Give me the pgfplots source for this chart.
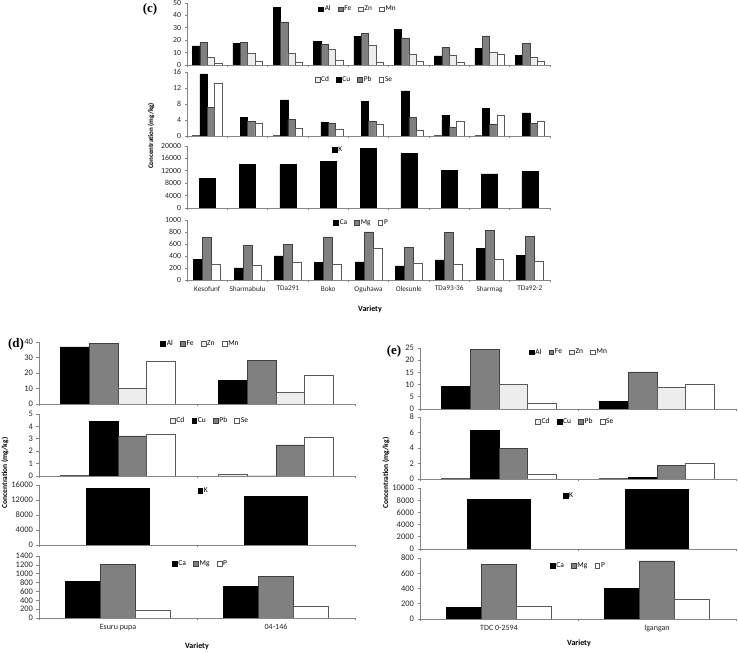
\documentclass[border=0pt]{standalone}
\usepackage{pgfplots}
\pgfplotsset{compat=1.18}
\usepackage{pgfplotstable}
\usepackage{fontspec}
\setmainfont{Carlito}
\newfontfamily\serifbold{Liberation Serif}
\definecolor{axisgrey}{HTML}{868686}
\definecolor{midgrey}{HTML}{808080}
\definecolor{lightgrey}{HTML}{EDEDED}

% ---------- panel (c) ----------
\pgfplotstableread{
x Al Fe Zn Mn
0 15.4 18.4 6.3 1.8
1 17.5 18.0 9.5 3.4
2 46.3 34.7 9.5 2.0
3 19.2 16.4 12.8 3.8
4 22.9 25.5 16.2 2.3
5 28.6 21.8 8.8 3.3
6 7.4 14.4 8.0 2.0
7 13.6 23.4 10.5 8.3
8 8.0 17.6 5.9 3.2
}\cA
\pgfplotstableread{
x Cd Cu Pb Se
0 0.15 15.5 7.2 13.2
1 0 4.7 3.7 3.2
2 0.15 9.0 4.2 1.9
3 0 3.4 3.2 1.7
4 0 8.6 3.6 3.0
5 0 11.3 4.6 1.35
6 0.1 5.2 2.1 3.8
7 0.1 6.9 2.9 5.2
8 0 5.8 3.1 3.6
}\cB
\pgfplotstableread{
x K
0 9600
1 14000
2 14000
3 15100
4 19200
5 17500
6 12200
7 11000
8 11700
}\cC
\pgfplotstableread{
x Ca Mg P
0 340 715 270
1 200 575 240
2 400 590 290
3 290 720 270
4 300 800 535
5 235 540 285
6 335 790 265
7 530 830 345
8 405 730 315
}\cD
% ---------- panel (d) ----------
\pgfplotstableread{
x Al Fe Zn Mn
0 36.8 38.9 10.4 27.7
1 15.1 28.3 7.7 18.3
}\dA
\pgfplotstableread{
x Cd Cu Pb Se
0 0.05 4.38 3.23 3.33
1 0.13 0 2.5 3.09
}\dB
\pgfplotstableread{
x K
0 15100
1 13000
}\dC
\pgfplotstableread{
x Ca Mg P
0 835 1219 181
1 722 940 271
}\dD
% ---------- panel (e) ----------
\pgfplotstableread{
x Al Fe Zn Mn
0 9.3 24.3 10.0 2.5
1 3.1 15.2 8.8 10.0
}\eA
\pgfplotstableread{
x Cd Cu Pb Se
0 0.1 6.25 3.93 0.6
1 0.1 0.2 1.8 1.97
}\eB
\pgfplotstableread{
x K
0 8100
1 9750
}\eC
\pgfplotstableread{
x Ca Mg P
0 148 713 170
1 404 761 257
}\eD

\tikzset{
  blackbar/.style={fill=black, draw=black, line width=0.5pt},
  greybar/.style={fill=midgrey, draw=black!75, line width=0.5pt},
  lightbar/.style={fill=lightgrey, draw=black!65, line width=0.5pt},
  whitebar/.style={fill=white, draw=black!65, line width=0.5pt},
}

\pgfplotsset{
  subplot/.style={
    scale only axis,
    anchor=south west,
    axis x line=bottom, axis y line=left,
    axis line style={draw=axisgrey, line width=0.6pt, -},
    enlargelimits=false,
    ymin=0, xmin=-0.5,
    ybar=0pt,
    tick align=outside,
    major tick length=2.5pt,
    minor tick length=2.5pt,
    tick style={draw=axisgrey, line width=0.6pt},
    major x tick style={draw=none},
    minor y tick num=0,
    scaled y ticks=false,
    /pgf/number format/1000 sep={},
    /pgf/number format/assume math mode=true,
    tick label style={text=black!85},
    xticklabels={},
    legend style={draw=none, fill=none, legend columns=-1, inner sep=0pt, anchor=center,
      nodes={inner xsep=1.2pt, inner ysep=0.5pt},
      /tikz/every even column/.append style={column sep=6pt}},
    legend image code/.code={\draw[##1, line width=0.4pt] (0pt,-2.4pt) rectangle (4.8pt,2.4pt);},
  },
  cpanel/.style={subplot, width=363pt, xmax=8.5, xtick={0,...,8},
    minor xtick={-0.5,0.5,...,8.5},
    xticklabel style={font=\fontsize{7.3}{8}\selectfont},
    yticklabel style={font=\fontsize{7.8}{9}\selectfont},
    legend style={font=\fontsize{7.3}{8}\selectfont}},
  depanel/.style={subplot, width=316pt, xmax=1.5, xtick={0,1},
    minor xtick={-0.5,0.5,1.5},
    xticklabel style={font=\fontsize{8}{9}\selectfont},
    yticklabel style={font=\fontsize{8.5}{9}\selectfont},
    legend style={font=\fontsize{7.5}{8}\selectfont}},
}

\begin{document}
\begin{tikzpicture}
% ================= (c) =================
\begin{axis}[cpanel, at={(187pt,587pt)}, height=62pt, ymax=50, ytick={0,10,...,50},
  legend style={at={(0.47,0.90)}}]
\addplot[blackbar, bar width=0.1818, bar shift=-0.2727] table[x=x,y=Al]{\cA};
\addplot[greybar, bar width=0.1818, bar shift=-0.0909] table[x=x,y=Fe]{\cA};
\addplot[lightbar, bar width=0.1818, bar shift=0.0909] table[x=x,y=Zn]{\cA};
\addplot[whitebar, bar width=0.1818, bar shift=0.2727] table[x=x,y=Mn]{\cA};
\legend{Al,Fe,Zn,Mn}
\end{axis}
\begin{axis}[cpanel, at={(187pt,516pt)}, height=64pt, ymax=16, ytick={0,4,...,16},
  legend style={at={(0.46,0.875)}}]
\addplot[lightbar, bar width=0.1818, bar shift=-0.2727] table[x=x,y=Cd]{\cB};
\addplot[blackbar, bar width=0.1818, bar shift=-0.0909] table[x=x,y=Cu]{\cB};
\addplot[greybar, bar width=0.1818, bar shift=0.0909] table[x=x,y=Pb]{\cB};
\addplot[whitebar, bar width=0.1818, bar shift=0.2727] table[x=x,y=Se]{\cB};
\legend{Cd,Cu,Pb,Se}
\end{axis}
\begin{axis}[cpanel, at={(187pt,444pt)}, height=62pt, ymax=20000, ytick={0,4000,...,20000},
  legend style={at={(0.415,0.935)}}]
\addplot[blackbar, bar width=0.4, bar shift=0] table[x=x,y=K]{\cC};
\legend{K}
\end{axis}
\begin{axis}[cpanel, at={(187pt,372pt)}, height=60pt, ymax=1000, ytick={0,200,...,1000},
  legend style={at={(0.48,0.95)}},
  xticklabels={Kesofunf,Sharmabulu,TDa291,Boko,Oguhawa,Olesunle,TDa93-36,Sharmag,TDa92-2}]
\addplot[blackbar, bar width=0.2222, bar shift=-0.2222] table[x=x,y=Ca]{\cD};
\addplot[greybar, bar width=0.2222, bar shift=0] table[x=x,y=Mg]{\cD};
\addplot[whitebar, bar width=0.2222, bar shift=0.2222] table[x=x,y=P]{\cD};
\legend{Ca,Mg,P}
\end{axis}
\node[rotate=90, font=\bfseries\fontsize{7}{8}\selectfont] at (151pt,516pt) {Concentration (mg/kg)};
\node[font=\bfseries\fontsize{8}{9}\selectfont] at (370pt,343pt) {Variety};
\node[font=\serifbold\bfseries\fontsize{13}{14}\selectfont] at (150pt,643pt) {(c)};

% ================= (d) =================
\begin{axis}[depanel, at={(39pt,248pt)}, height=62pt, ymax=40, ytick={0,10,...,40},
  legend style={at={(0.51,0.97)}}]
\addplot[blackbar, bar width=0.1818, bar shift=-0.2727] table[x=x,y=Al]{\dA};
\addplot[greybar, bar width=0.1818, bar shift=-0.0909] table[x=x,y=Fe]{\dA};
\addplot[lightbar, bar width=0.1818, bar shift=0.0909] table[x=x,y=Zn]{\dA};
\addplot[whitebar, bar width=0.1818, bar shift=0.2727] table[x=x,y=Mn]{\dA};
\legend{Al,Fe,Zn,Mn}
\end{axis}
\begin{axis}[depanel, at={(39pt,176pt)}, height=62pt, ymax=5, ytick={0,1,...,5},
  legend style={at={(0.54,0.89)}}]
\addplot[lightbar, bar width=0.1818, bar shift=-0.2727] table[x=x,y=Cd]{\dB};
\addplot[blackbar, bar width=0.1818, bar shift=-0.0909] table[x=x,y=Cu]{\dB};
\addplot[greybar, bar width=0.1818, bar shift=0.0909] table[x=x,y=Pb]{\dB};
\addplot[whitebar, bar width=0.1818, bar shift=0.2727] table[x=x,y=Se]{\dB};
\legend{Cd,Cu,Pb,Se}
\end{axis}
\begin{axis}[depanel, at={(39pt,107pt)}, height=60pt, ymax=16000, ytick={0,4000,...,16000},
  legend style={at={(0.52,0.90)}}]
\addplot[blackbar, bar width=0.4, bar shift=0] table[x=x,y=K]{\dC};
\legend{K}
\end{axis}
\begin{axis}[depanel, at={(39pt,34pt)}, height=62pt, ymax=1400, ytick={0,200,...,1400},
  legend style={at={(0.51,0.87)}},
  xticklabels={Esuru pupa,04-146}]
\addplot[blackbar, bar width=0.2222, bar shift=-0.2222] table[x=x,y=Ca]{\dD};
\addplot[greybar, bar width=0.2222, bar shift=0] table[x=x,y=Mg]{\dD};
\addplot[whitebar, bar width=0.2222, bar shift=0.2222] table[x=x,y=P]{\dD};
\legend{Ca,Mg,P}
\end{axis}
\node[rotate=90, font=\bfseries\fontsize{7.5}{8}\selectfont] at (5pt,179pt) {Concentration (mg/kg)};
\node[font=\bfseries\fontsize{8}{9}\selectfont] at (197pt,6pt) {Variety};
\node[font=\serifbold\bfseries\fontsize{13}{14}\selectfont] at (16pt,308pt) {(d)};

% ================= (e) =================
\begin{axis}[depanel, at={(420pt,243pt)}, height=61pt, ymax=25, ytick={0,5,...,25},
  legend style={at={(0.47,0.93)}}]
\addplot[blackbar, bar width=0.1818, bar shift=-0.2727] table[x=x,y=Al]{\eA};
\addplot[greybar, bar width=0.1818, bar shift=-0.0909] table[x=x,y=Fe]{\eA};
\addplot[lightbar, bar width=0.1818, bar shift=0.0909] table[x=x,y=Zn]{\eA};
\addplot[whitebar, bar width=0.1818, bar shift=0.2727] table[x=x,y=Mn]{\eA};
\legend{Al,Fe,Zn,Mn}
\end{axis}
\begin{axis}[depanel, at={(420pt,173pt)}, height=62pt, ymax=8, ytick={0,2,...,8},
  legend style={at={(0.49,0.92)}}]
\addplot[lightbar, bar width=0.1818, bar shift=-0.2727] table[x=x,y=Cd]{\eB};
\addplot[blackbar, bar width=0.1818, bar shift=-0.0909] table[x=x,y=Cu]{\eB};
\addplot[greybar, bar width=0.1818, bar shift=0.0909] table[x=x,y=Pb]{\eB};
\addplot[whitebar, bar width=0.1818, bar shift=0.2727] table[x=x,y=Se]{\eB};
\legend{Cd,Cu,Pb,Se}
\end{axis}
\begin{axis}[depanel, at={(420pt,103pt)}, height=61pt, ymax=10000, ytick={0,2000,...,10000},
  legend style={at={(0.47,0.87)}}]
\addplot[blackbar, bar width=0.4, bar shift=0] table[x=x,y=K]{\eC};
\legend{K}
\end{axis}
\begin{axis}[depanel, at={(420pt,33pt)}, height=61pt, ymax=800, ytick={0,200,...,800},
  legend style={at={(0.50,0.87)}},
  xticklabels={TDC 0-2594,Igangan}]
\addplot[blackbar, bar width=0.2222, bar shift=-0.2222] table[x=x,y=Ca]{\eD};
\addplot[greybar, bar width=0.2222, bar shift=0] table[x=x,y=Mg]{\eD};
\addplot[whitebar, bar width=0.2222, bar shift=0.2222] table[x=x,y=P]{\eD};
\legend{Ca,Mg,P}
\end{axis}
\node[rotate=90, font=\bfseries\fontsize{7.5}{8}\selectfont] at (386pt,179pt) {Concentration (mg/kg)};
\node[font=\bfseries\fontsize{8}{9}\selectfont] at (579pt,9pt) {Variety};
\node[font=\serifbold\bfseries\fontsize{13}{14}\selectfont] at (394pt,301pt) {(e)};

\pgfresetboundingbox
\path[use as bounding box] (0pt,0pt) rectangle (738pt,652pt);
\end{tikzpicture}
\end{document}
